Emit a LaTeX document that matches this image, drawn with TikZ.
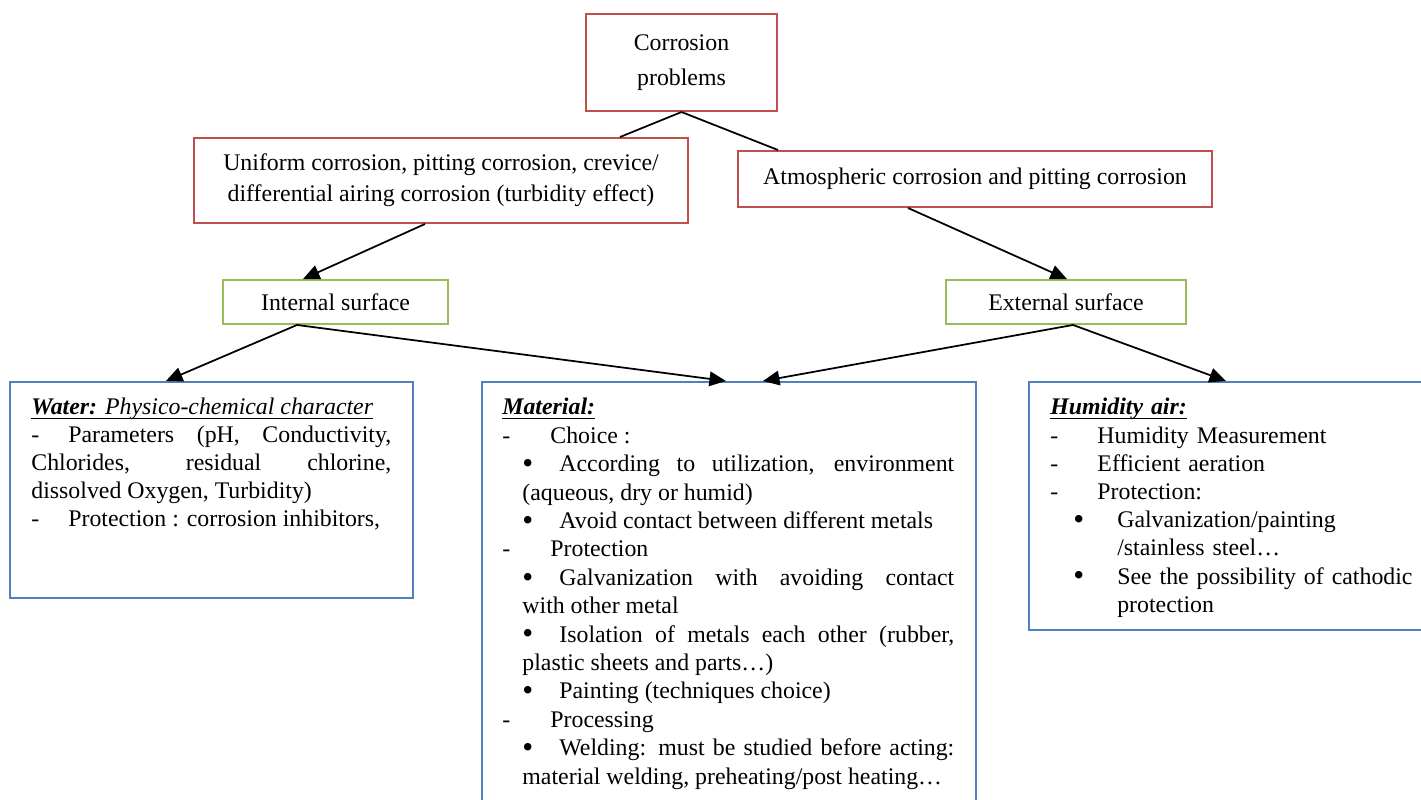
\documentclass[tikz,border=0pt]{standalone}
\usepackage{fontspec}
\setmainfont{Liberation Serif}
\usetikzlibrary{arrows.meta,calc}
\definecolor{boxred}{HTML}{C0504D}
\definecolor{boxgreen}{HTML}{9BBB59}
\definecolor{boxblue}{HTML}{4F81BD}
\newcommand{\thickul}[1]{\setbox0\hbox{#1}\rlap{\rule[-2.2pt]{\wd0}{0.85pt}}\box0}
\newcommand{\bigbul}{\raisebox{-0.9pt}{\fontsize{16}{16}\selectfont\textbullet}}
\newcommand{\dashpar}[2]{\makebox[#1][l]{-}#2\par}
\newcommand{\bulpar}[1]{{\leftskip=10.3pt\noindent\makebox[19pt][l]{\bigbul}#1\par}}
\newcommand{\hangbul}[1]{{\leftskip=34.4pt\noindent\hspace*{-22.6pt}\makebox[22.6pt][l]{\bigbul}#1\par}}
\begin{document}
\begin{tikzpicture}[x=0.514pt,y=-0.514pt]
\tikzstyle{every node}+=[inner sep=0pt, font=\fontsize{12.25}{14.4}\selectfont]
\tikzstyle{redbox}=[draw=boxred, line width=1pt, align=center]
\tikzstyle{greenbox}=[draw=boxgreen, line width=1pt]
\tikzstyle{bluebox}=[draw=boxblue, line width=1pt, anchor=north west]
\tikzstyle{boxtext}=[anchor=north west, align=justify, execute at begin node=\sloppy]
\tikzstyle{link}=[black, line width=0.9pt]
\tikzstyle{arrow}=[link, -{Triangle[length=8.5pt,width=7.5pt]}]
\useasboundingbox (0,0) rectangle (1421,799);
\clip (0,0) rectangle (1421,799);
\draw (681.5,62.5) node[redbox, minimum width=98.2pt, minimum height=49.9pt, font=\fontsize{12.25}{18}\selectfont] (problems) {Corrosion\\problems};
\draw (441,180.5) node[redbox, minimum width=253.9pt, minimum height=43.7pt, font=\fontsize{12.25}{16}\selectfont] (uniform) {Uniform corrosion, pitting corrosion, crevice/\\differential airing corrosion (turbidity effect)};
\draw (975,179) node[redbox, minimum width=243.6pt, minimum height=28.8pt] (atmos) {Atmospheric corrosion and pitting corrosion};
\draw (335.5,302) node[greenbox, minimum width=115.7pt, minimum height=22.6pt] (internal) {Internal surface};
\draw (1066,302) node[greenbox, minimum width=123.4pt, minimum height=22.6pt] (external) {External surface};
\draw (9,381) node[bluebox, minimum width=207.1pt, minimum height=111pt] (water) {};
\draw (481,381) node[bluebox, minimum width=253.9pt, minimum height=226pt] (material) {};
\draw (1028,381) node[bluebox, minimum width=211.8pt, minimum height=127.5pt] (humid) {};
\draw ($(water.north west)+(22,17)$) node[boxtext, text width=185pt, font=\fontsize{12.25}{14.3}\selectfont] (watertext) {\thickul{\textbf{\textit{Water:}} \textit{Physico-chemical character}}\par
\makebox[19pt][l]{-}Parameters (pH, Conductivity,\linebreak Chlorides, residual chlorine,\linebreak dissolved Oxygen, Turbidity)\par
\dashpar{19pt}{Protection : corrosion inhibitors,}};
\draw ($(material.north west)+(21,17)$) node[boxtext, text width=232.3pt, font=\fontsize{12.25}{14.6}\selectfont] (materialtext) {\thickul{\textbf{\textit{Material:}}}\par
\dashpar{24.7pt}{Choice :}
\bulpar{According to utilization, environment\linebreak (aqueous, dry or humid)}
\bulpar{Avoid contact between different metals}
\dashpar{24.7pt}{Protection}
\bulpar{Galvanization with avoiding contact\linebreak with other metal}
\bulpar{Isolation of metals each other (rubber,\linebreak plastic sheets and parts…)}
\bulpar{Painting (techniques choice)}
\dashpar{24.7pt}{Processing}
\bulpar{Welding: must be studied before acting:\linebreak material welding, preheating/post heating…}};
\draw ($(humid.north west)+(22,17)$) node[boxtext, align=left, text width=200pt, font=\fontsize{12.25}{14.5}\selectfont] (humidtext) {\thickul{\textbf{\textit{Humidity air:}}}\par
\dashpar{24.2pt}{Humidity Measurement}
\dashpar{24.2pt}{Efficient aeration}
\dashpar{24.2pt}{Protection:}
\hangbul{Galvanization/painting\\/stainless steel…}
\hangbul{See the possibility of cathodic\\protection}};
\draw [link] (problems.south) -- ($(uniform.north)+(179,0)$);
\draw [link] (problems.south) -- ($(atmos.north)+(-197,0)$);
\draw [arrow] ($(uniform.south)+(-16,0)$) -- ($(internal.north)+(-32.5,0)$);
\draw [arrow] ($(atmos.south)+(-67,0)$) -- ($(external.north)+(1,0)$);
\draw [arrow] ($(internal.south)+(-38.5,0)$) -- ($(water.north)+(-45.5,0)$);
\draw [arrow] ($(internal.south)+(-38.5,0)$) -- ($(material.north)+(-3,0)$);
\draw [arrow] ($(external.south)+(7,0)$) -- ($(material.north)+(34,0)$);
\draw [arrow] ($(external.south)+(7,0)$) -- ($(humid.north)+(-9,0)$);
\end{tikzpicture}
\end{document}
